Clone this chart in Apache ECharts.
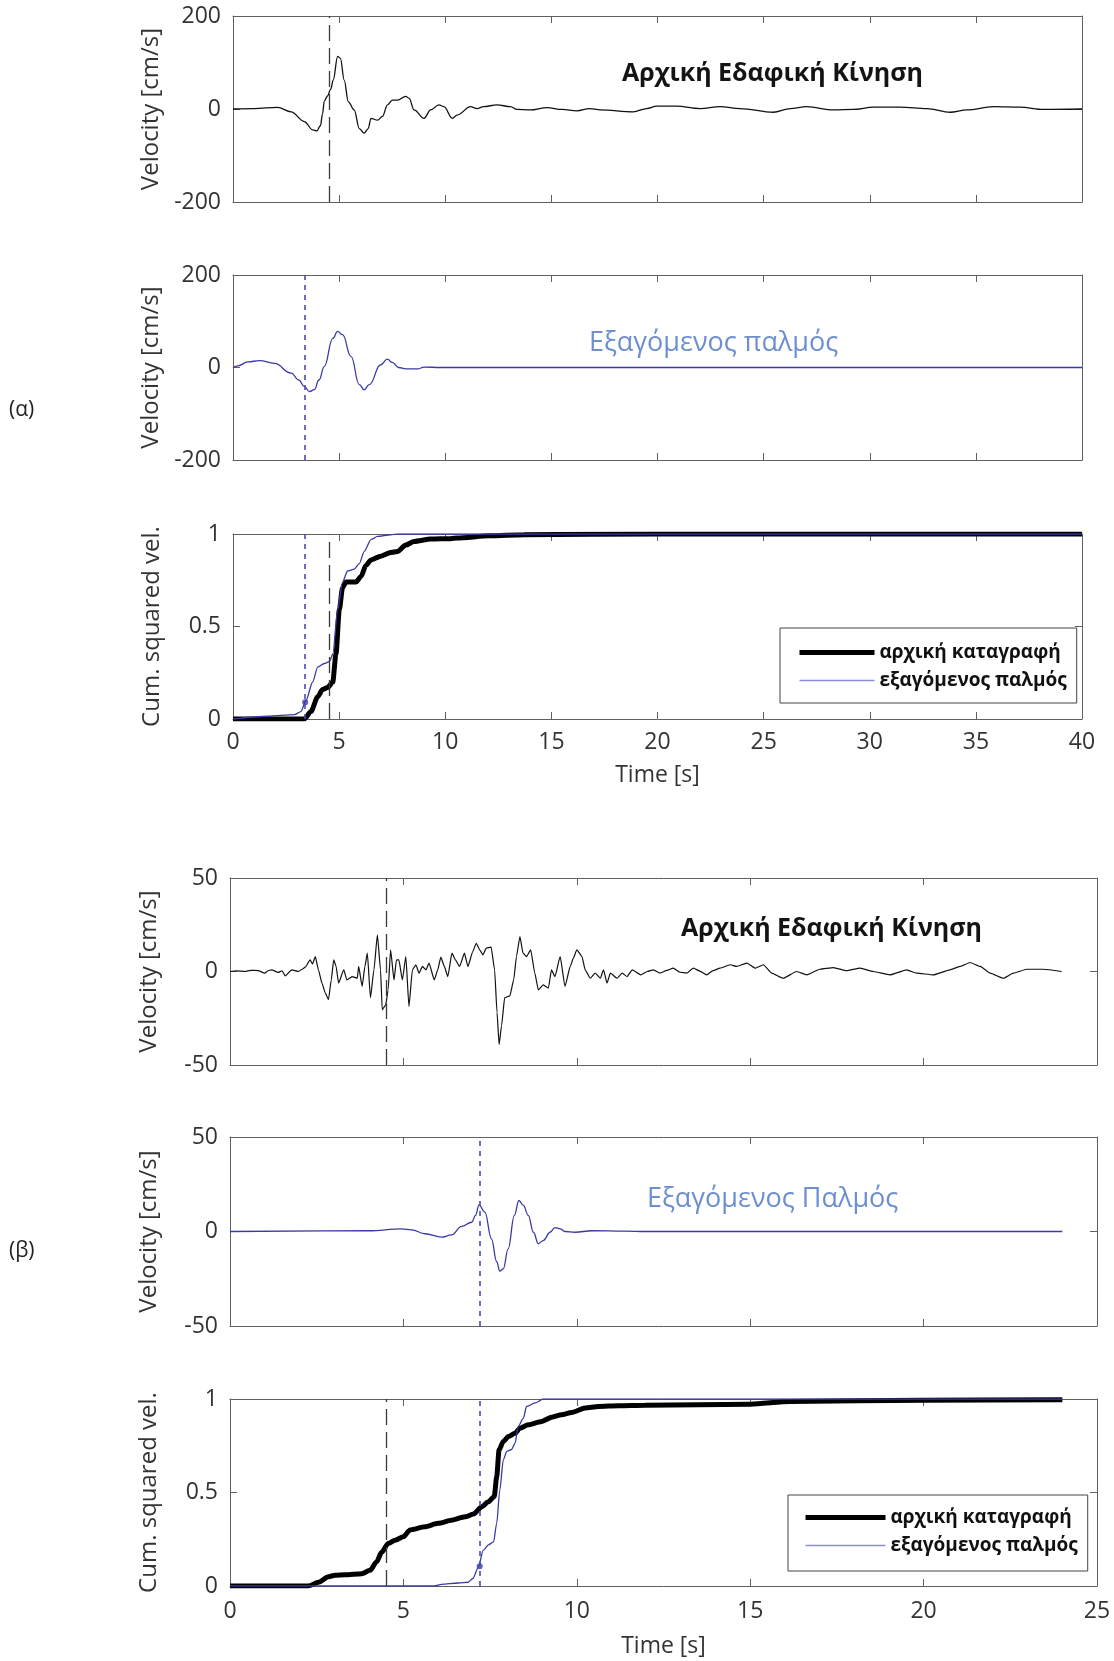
<!DOCTYPE html>
<html>
<head>
<meta charset="utf-8">
<script src="https://cdn.jsdelivr.net/npm/echarts@6/dist/echarts.min.js"></script>
<style>
html,body{margin:0;padding:0;background:#fff;}
#chart{width:1114px;height:1661px;}
</style>
</head>
<body>
<div id="chart"></div>
<script>
// ---------------- DATA ----------------
// Panel (α)
const aXMax = 40;
const xTickStep = 5;
const aVelTicks = [-200, 0, 200];
const cumTicks = [0, 0.5, 1];
const aOrigVel = [[0,0],[1.0,1],[2.1,3.6],[2.74,-6],[3.36,-27],[3.76,-45],[3.95,-47],[4.12,-36],[4.22,-10],[4.3,17],[4.45,28],[4.6,42],[4.72,62],[4.93,113],[5.06,109],[5.24,62],[5.43,16],[5.71,-2],[5.95,-42],[6.18,-52],[6.37,-42],[6.5,-20],[6.81,-24],[7.04,-16],[7.28,9],[7.51,19],[7.75,19],[8.14,27],[8.3,23],[8.53,-2],[9.0,-20],[9.31,-2],[9.7,9],[9.94,5],[10.33,-20],[10.56,-13],[11.19,5],[11.5,1],[11.8,5],[12.44,9],[13.07,5],[13.38,-1],[14.0,-2],[14.8,3],[15.5,-1],[16.2,-4],[16.8,1],[17.3,-2],[18.86,-6],[19.49,1],[19.96,6],[20.9,6],[22.0,1],[22.95,5],[23.89,1],[25.46,-7],[26.25,1],[27.03,5],[28.29,-2],[29.23,-1],[30.17,4],[31.43,4],[32.69,1],[33.79,-7],[34.57,-2],[35.83,5],[37.09,4],[38.19,-1],[40,0]];
const aPulseVel = [[0,0],[0.23,3.6],[0.7,12],[1.25,15],[1.95,9],[2.74,-12],[3.1,-27],[3.36,-41],[3.6,-52],[3.83,-48],[4.05,-27],[4.3,2],[4.7,63],[4.93,78],[5.16,71],[5.56,24],[5.95,-37],[6.18,-48],[6.42,-37],[6.96,6],[7.28,18],[7.5,11],[7.8,0],[8.14,-3],[8.7,-3],[9.0,1],[9.8,0],[12,0],[40,0]];
const aOrigCum = [[0,0],[3.36,0],[3.67,0.04],[3.99,0.12],[4.22,0.16],[4.46,0.17],[4.7,0.2],[4.85,0.35],[5.01,0.59],[5.16,0.71],[5.32,0.74],[5.79,0.74],[6.03,0.77],[6.26,0.83],[6.5,0.86],[6.96,0.88],[7.43,0.9],[7.75,0.905],[8.14,0.94],[8.53,0.96],[9.31,0.973],[10.25,0.975],[10.56,0.978],[12.1,0.99],[13.7,0.996],[20,1],[40,1]];
const aPulseCum = [[0,0],[1.64,0.015],[2.9,0.024],[3.2,0.04],[3.44,0.1],[3.75,0.2],[3.99,0.28],[4.3,0.3],[4.54,0.31],[4.7,0.35],[4.93,0.59],[5.16,0.74],[5.4,0.8],[5.71,0.81],[5.95,0.84],[6.18,0.905],[6.5,0.97],[6.81,0.987],[7.43,0.996],[7.75,1],[40,1]];
const aPulseDot = [[3.4, 0.09]];
const aOrigArrival = 4.55;
const aPulseArrival = 3.4;

// Panel (β)
const bXMax = 25;
const bVelTicks = [-50, 0, 50];
const bOrigVel = [[0,0],[0.2,0.3],[0.43,0],[0.6,0.6],[0.81,0.5],[1.0,-0.9],[1.1,0.4],[1.2,0.9],[1.39,-0.5],[1.5,0.4],[1.59,-2.3],[1.78,0.9],[1.97,0],[2.08,1.2],[2.17,2.3],[2.31,6.2],[2.38,4],[2.46,8],[2.55,0.9],[2.65,-6.2],[2.75,-11.6],[2.84,-15],[2.92,-4.5],[2.99,6.2],[3.06,2.7],[3.13,-6.2],[3.28,0.9],[3.37,-4.5],[3.52,-2.7],[3.67,-3.6],[3.71,2.7],[3.81,-8],[3.89,2.7],[3.96,9.8],[4.05,-14],[4.15,0.9],[4.25,19.6],[4.34,0.9],[4.39,-20.5],[4.49,-17.8],[4.56,-9.8],[4.63,11.6],[4.73,-4.5],[4.8,6.2],[4.87,6.2],[4.97,-4.5],[5.07,8],[5.16,-18.7],[5.26,0.9],[5.36,3.6],[5.45,-0.9],[5.55,2.7],[5.65,0.9],[5.74,4.5],[5.89,-4.5],[5.99,0.9],[6.08,7.7],[6.18,2.7],[6.28,-2.7],[6.4,9.8],[6.5,6.2],[6.62,2.7],[6.76,9.8],[6.86,2.7],[7.0,10.7],[7.1,15.1],[7.2,11.6],[7.29,8.9],[7.39,12.5],[7.53,13],[7.63,0.9],[7.7,-22],[7.76,-39],[7.83,-29],[7.92,-14],[8.07,-13],[8.18,-4.5],[8.26,8],[8.36,18.7],[8.45,9.8],[8.55,8],[8.67,11.6],[8.79,-0.9],[8.89,-9.8],[9.03,-7.1],[9.18,-8.9],[9.27,0.9],[9.37,-2.7],[9.52,8],[9.66,-8],[9.81,2.7],[9.9,7.1],[10.0,11.6],[10.15,8],[10.24,0.9],[10.39,-3.6],[10.53,-0.9],[10.68,-3.6],[10.77,0.9],[10.87,-6.2],[10.97,-0.9],[11.16,-3.6],[11.31,-0.9],[11.45,-2.7],[11.6,0.9],[11.84,-1.8],[12.03,0],[12.21,0.9],[12.4,-0.9],[12.6,0.6],[12.78,1.8],[12.98,-0.4],[13.17,-0.9],[13.36,1.8],[13.55,0.2],[13.74,-1.8],[13.93,0.5],[14.13,1.8],[14.42,3.6],[14.61,2.7],[14.9,4.5],[15.14,1.8],[15.38,3.6],[15.62,-0.9],[15.95,-3.6],[16.34,0],[16.63,-1.8],[17.01,1.2],[17.4,2.1],[17.78,0.4],[18.17,1.8],[18.55,0],[19.03,-1.8],[19.51,0.9],[19.8,-0.9],[20.28,-1.8],[20.76,0.9],[21.05,2.7],[21.34,4.8],[21.63,2.7],[21.92,-0.9],[22.3,-3.6],[22.59,-0.9],[22.97,1.2],[23.45,1.2],[23.98,0]];
const bPulseVel = [[0,0],[4.0,0.4],[4.95,1.4],[5.24,0.9],[5.62,-1.2],[6.1,-3],[6.39,-1.8],[6.68,2.7],[6.97,4.9],[7.08,8.5],[7.18,14.1],[7.35,10.2],[7.54,-3.9],[7.69,-16],[7.78,-21],[7.88,-19.8],[8.02,-9.2],[8.2,8.5],[8.33,16.4],[8.46,13.8],[8.6,8.5],[8.75,-0.4],[8.89,-6.5],[9.03,-4.8],[9.23,-0.4],[9.37,2.1],[9.52,1.4],[9.66,0],[9.95,-0.4],[10.43,0.4],[11.39,0.2],[12,0],[24,0]];
const bOrigCum = [[0,0],[2.26,0],[2.55,0.02],[2.84,0.05],[3.03,0.057],[3.32,0.06],[3.8,0.066],[4.04,0.084],[4.23,0.13],[4.37,0.18],[4.56,0.227],[4.76,0.245],[5.0,0.263],[5.19,0.3],[5.62,0.317],[6.0,0.335],[6.39,0.352],[6.78,0.37],[7.02,0.385],[7.26,0.424],[7.45,0.45],[7.62,0.478],[7.69,0.585],[7.76,0.728],[7.88,0.773],[8.03,0.8],[8.22,0.817],[8.36,0.844],[8.6,0.862],[8.99,0.88],[9.28,0.903],[9.56,0.916],[9.85,0.928],[10.24,0.952],[10.62,0.96],[11.2,0.964],[11.97,0.967],[15.0,0.972],[16.15,0.987],[20,0.993],[24,0.996]];
const bPulseCum = [[0,0],[5.9,0],[6.1,0.009],[6.58,0.016],[6.87,0.02],[7.0,0.04],[7.16,0.1],[7.3,0.19],[7.45,0.22],[7.6,0.236],[7.69,0.335],[7.78,0.513],[7.88,0.674],[7.98,0.72],[8.12,0.73],[8.22,0.764],[8.31,0.853],[8.46,0.898],[8.55,0.96],[8.8,0.979],[9.03,1.0],[24,1]];
const bPulseDot = [[7.2, 0.105]];
const bOrigArrival = 4.5;
const bPulseArrival = 7.2;

// Texts
const nameOrig = 'αρχική καταγραφή';
const namePulse = 'εξαγόμενος παλμός';
const velName = 'Velocity [cm/s]';
const cumName = 'Cum. squared vel.';
const timeName = 'Time [s]';
const titleOrig = 'Αρχική Εδαφική Κίνηση';
const titlePulseA = 'Εξαγόμενος παλμός';
const titlePulseB = 'Εξαγόμενος Παλμός';

// ---------------- STYLE ----------------
const FONT = '"Open Sans", "Noto Sans", sans-serif';
const frame = '#606060';
const txt = '#333333';
const blue = '#3a3aa6';
const dotBlue = '#4a4ab8';
const lightBlue = '#6d8fd2';

const grids = [
  {left: 233, top: 16, width: 849, height: 186},
  {left: 233, top: 275, width: 849, height: 185},
  {left: 233, top: 534, width: 849, height: 185},
  {left: 230, top: 878, width: 867, height: 187},
  {left: 230, top: 1137, width: 867, height: 189},
  {left: 230, top: 1399, width: 867, height: 187}
];

const xAxes = [], yAxes = [];
function addAxes(gi, xMax, yTicks, yName, showX, labelMargin, nameGapX) {
  const tick = {show: true, inside: true, length: 7, lineStyle: {color: frame, width: 1}};
  const line = {show: true, onZero: false, lineStyle: {color: frame, width: 1}};
  xAxes.push({
    type: 'value', gridIndex: gi, position: 'bottom', min: 0, max: xMax, interval: xTickStep,
    axisLine: line, axisTick: tick, splitLine: {show: false},
    axisLabel: {show: showX, fontSize: 23, color: txt, fontFamily: FONT, margin: labelMargin},
    name: showX ? timeName : '', nameLocation: 'middle', nameGap: nameGapX,
    nameTextStyle: {fontSize: 23, color: txt, fontFamily: FONT}
  });
  xAxes.push({
    type: 'value', gridIndex: gi, position: 'top', min: 0, max: xMax, interval: xTickStep,
    axisLine: line, axisTick: tick, splitLine: {show: false}, axisLabel: {show: false}
  });
  const step = yTicks[1] - yTicks[0];
  yAxes.push({
    type: 'value', gridIndex: gi, position: 'left', min: yTicks[0], max: yTicks[yTicks.length - 1], interval: step,
    axisLine: line, axisTick: tick, splitLine: {show: false},
    axisLabel: {show: true, fontSize: 23, color: txt, fontFamily: FONT, margin: 12},
    name: yName, nameLocation: 'middle', nameGap: 69,
    nameTextStyle: {fontSize: 24, color: txt, fontFamily: FONT}
  });
  yAxes.push({
    type: 'value', gridIndex: gi, position: 'right', min: yTicks[0], max: yTicks[yTicks.length - 1], interval: step,
    axisLine: line, axisTick: tick, splitLine: {show: false}, axisLabel: {show: false}
  });
}
addAxes(0, aXMax, aVelTicks, velName, false, 12, 44);
addAxes(1, aXMax, aVelTicks, velName, false, 12, 44);
addAxes(2, aXMax, cumTicks, cumName, true, 12, 45);
addAxes(3, bXMax, bVelTicks, velName, false, 14, 48);
addAxes(4, bXMax, bVelTicks, velName, false, 14, 48);
addAxes(5, bXMax, cumTicks, cumName, true, 14, 49);

function vline(x, kind) {
  return {
    symbol: 'none', silent: true, animation: false,
    label: {show: false},
    lineStyle: kind === 'orig'
      ? {type: [16, 7], color: '#3a3a3a', width: 1.3}
      : {type: [5, 5], color: dotBlue, width: 1.6},
    data: [{xAxis: x}]
  };
}
function lineSeries(gi, data, color, width, smooth, name, marks) {
  const s = {
    type: 'line', name: name || undefined, xAxisIndex: gi * 2, yAxisIndex: gi * 2, data: data,
    showSymbol: false, symbol: 'none', smooth: smooth, smoothMonotone: 'x',
    lineStyle: {color: color, width: width}, itemStyle: {color: color},
    animation: false, z: 3
  };
  if (marks) s.markLine = marks;
  return s;
}

const series = [
  lineSeries(0, aOrigVel, '#111111', 1.3, 0.35, null, vline(aOrigArrival, 'orig')),
  lineSeries(1, aPulseVel, blue, 1.3, 0.45, null, vline(aPulseArrival, 'pulse')),
  lineSeries(2, aOrigCum, '#000000', 5, 0.25, nameOrig, vline(aOrigArrival, 'orig')),
  lineSeries(2, aPulseCum, blue, 1.3, 0.25, namePulse, vline(aPulseArrival, 'pulse')),
  {type: 'scatter', xAxisIndex: 4, yAxisIndex: 4, data: aPulseDot, symbolSize: 6, itemStyle: {color: blue}, animation: false, z: 4},
  lineSeries(3, bOrigVel, '#111111', 1.2, 0.15, null, vline(bOrigArrival, 'orig')),
  lineSeries(4, bPulseVel, blue, 1.3, 0.4, null, vline(bPulseArrival, 'pulse')),
  lineSeries(5, bOrigCum, '#000000', 5, 0.25, nameOrig, vline(bOrigArrival, 'orig')),
  lineSeries(5, bPulseCum, blue, 1.3, 0.25, namePulse, vline(bPulseArrival, 'pulse')),
  {type: 'scatter', xAxisIndex: 10, yAxisIndex: 10, data: bPulseDot, symbolSize: 6, itemStyle: {color: blue}, animation: false, z: 4}
];

function legendAt(left, top, itemWidth, padding) {
  return {
    left: left, top: top, orient: 'vertical', selectedMode: false,
    itemWidth: itemWidth, itemHeight: 14, itemGap: 9, padding: padding,
    borderColor: '#444', borderWidth: 1, backgroundColor: '#fff',
    itemStyle: {opacity: 0},
    textStyle: {fontSize: 19, fontWeight: 'bold', color: '#111', fontFamily: FONT},
    data: [
      {name: nameOrig, lineStyle: {width: 5, color: '#000'}},
      {name: namePulse, lineStyle: {width: 1.3, color: '#8c8ce0'}}
    ]
  };
}

function textTitle(text, left, top, size, weight, color) {
  return {text: text, left: left, top: top, padding: 0,
    textStyle: {fontSize: size, fontWeight: weight, color: color, fontFamily: FONT}};
}

const option = {
  backgroundColor: '#ffffff',
  animation: false,
  title: [
    textTitle(titleOrig, 622, 61, 25, 'bold', '#141414'),
    textTitle(titlePulseA, 589, 330, 27, 'normal', lightBlue),
    textTitle(titleOrig, 681, 916, 25, 'bold', '#141414'),
    textTitle(titlePulseB, 647, 1186, 27, 'normal', lightBlue),
    textTitle('(α)', 9, 400, 21, 'normal', '#222'),
    textTitle('(β)', 9, 1241, 21, 'normal', '#222')
  ],
  legend: [
    legendAt(780, 628, 75, [15, 10, 13, 17]),
    legendAt(788, 1495, 80, [13, 10, 16, 15])
  ],
  grid: grids,
  xAxis: xAxes,
  yAxis: yAxes,
  series: series
};

const chart = echarts.init(document.getElementById('chart'), null, {renderer: 'canvas'});
chart.setOption(option);
</script>
</body>
</html>
